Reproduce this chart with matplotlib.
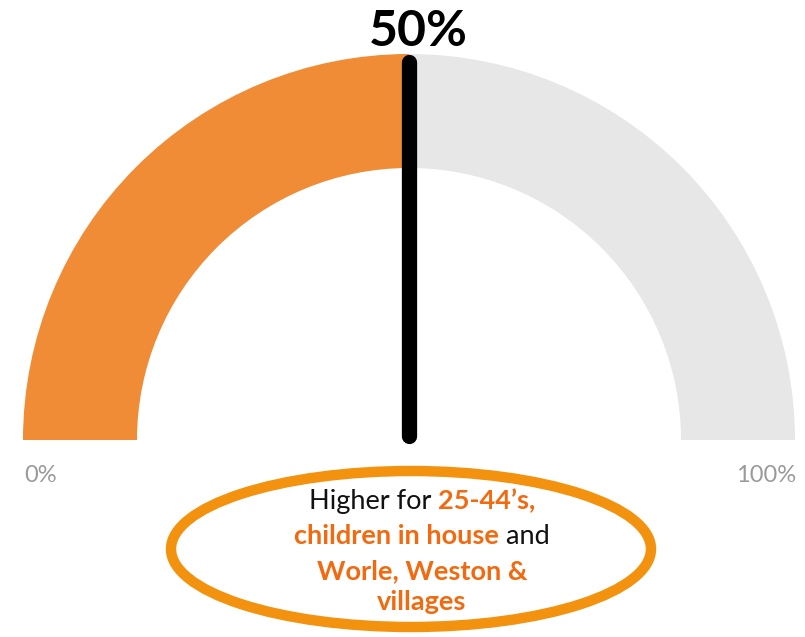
import numpy as np
import matplotlib.pyplot as plt
from matplotlib.patches import Wedge, Ellipse

# gauge reading
value = 50
max_value = 100
min_label = "0%"
max_label = "100%"

# note under the gauge, one list of (text, highlighted) pieces per line
note_lines = [
    [("Higher for ", False), ("25-44\u2019s,", True)],
    [("children in house", True), (" and", False)],
    [("Worle, Weston &", True)],
    [("villages", True)],
]

fill_color = "#F08B36"
rest_color = "#E7E7E7"
ring_color = "#F2920F"
note_color = "#F26A10"

fig = plt.figure(figsize=(8.05, 6.37), dpi=100)
ax = fig.add_axes([0, 0, 1, 1])
ax.set_xlim(0, 805)
ax.set_ylim(637, 0)
ax.axis("off")

cx, cy = 409, 440
r_out, r_in = 386, 272
frac = value / max_value

# in this flipped y axis, angles run clockwise, so the top half is 180..360
split = 180 + 180 * frac
ax.add_patch(Wedge((cx, cy), r_out, 180, split, width=r_out - r_in,
                   color=fill_color, lw=0))
ax.add_patch(Wedge((cx, cy), r_out, split, 360, width=r_out - r_in,
                   color=rest_color, lw=0))

# needle
ang = np.radians(split)
ax.plot([cx, cx + (r_out - 8) * np.cos(ang)], [cy - 4, cy + (r_out - 8) * np.sin(ang)],
        color="black", lw=11, solid_capstyle="round")

ax.text(418, 31, f"{value}%", ha="center", va="center", fontsize=36,
        fontweight="bold", family="Lato", color="black")
ax.text(41, 475, min_label, ha="center", va="center", fontsize=17,
        family="Lato", color="#9A9A9A")
ax.text(766, 475, max_label, ha="center", va="center", fontsize=17,
        family="Lato", color="#9A9A9A")

ax.add_patch(Ellipse((411, 549), 480, 156, fill=False, ec=ring_color, lw=7.5))

# note text, centred line by line with mixed colours
fig.canvas.draw()
renderer = fig.canvas.get_renderer()
line_y = [501, 536, 571, 602]
for y, pieces in zip(line_y, note_lines):
    objs = []
    for txt, hi in pieces:
        t = ax.text(0, y, txt, va="center", ha="left", fontsize=19.5, family="Lato",
                    fontweight="bold" if hi else "normal",
                    color=note_color if hi else "#111111")
        objs.append(t)
    widths = [t.get_window_extent(renderer).width for t in objs]
    x = 422 - sum(widths) / 2
    for t, w in zip(objs, widths):
        t.set_x(x)
        x += w

fig.savefig("out.png", dpi=100)
